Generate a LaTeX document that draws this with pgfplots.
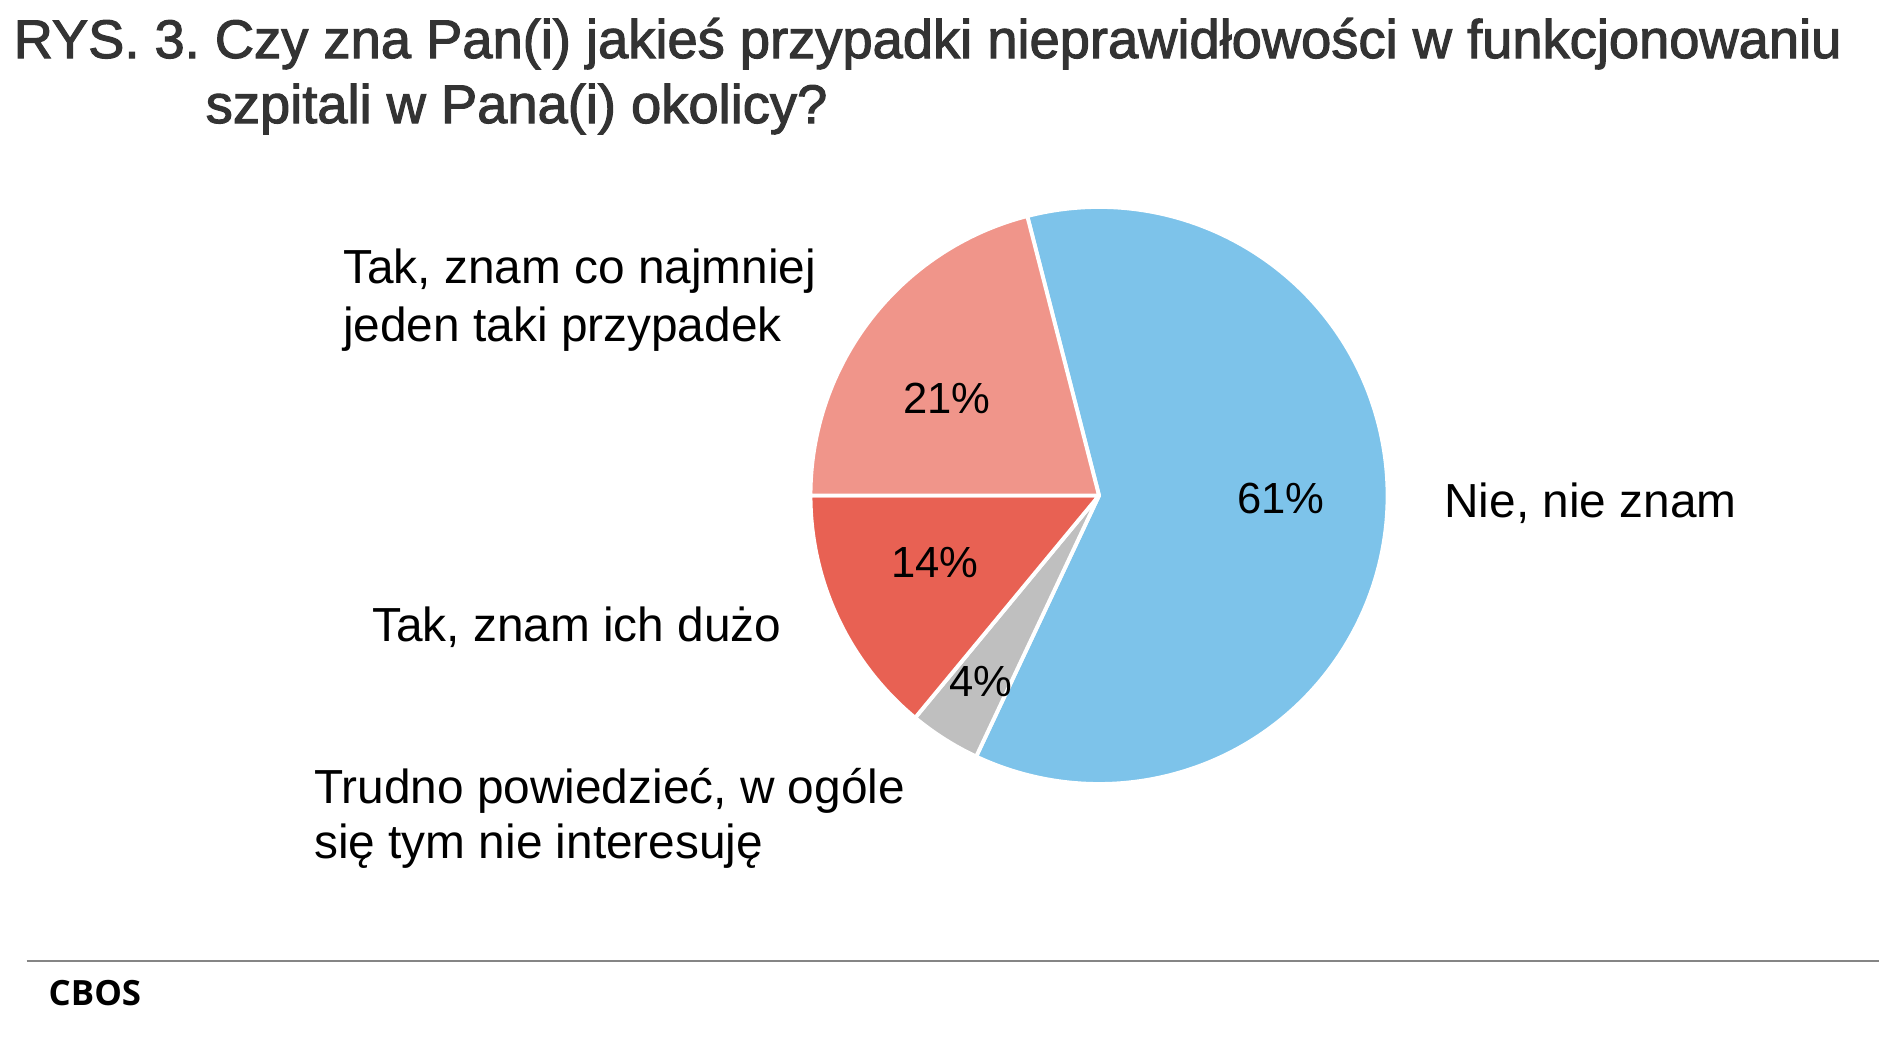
\documentclass[border=0pt]{standalone}
\usepackage{pgfplots}
\pgfplotsset{compat=1.18}
\usepackage{fontspec}
\setmainfont{Liberation Sans}
\newfontfamily\titlefont{Liberation Sans}[FakeBold=2]
\newfontfamily\cbosfont{Open Sans}[UprightFont=* Bold]
\definecolor{cblue}{HTML}{7DC3EA}
\definecolor{cpink}{HTML}{F0958A}
\definecolor{cred}{HTML}{E86153}
\definecolor{cgray}{HTML}{BFBFBF}
\definecolor{ctitle}{HTML}{333333}
\frenchspacing
\begin{document}
\begin{tikzpicture}
\path[use as bounding box] (0,0) rectangle (18.91cm,10.38cm);
\begin{axis}[
  at={(0,0)}, anchor=south west,
  width=18.91cm, height=10.38cm, scale only axis,
  xmin=0, xmax=1891, ymin=0, ymax=1038,
  hide axis, clip=false]
% values (percent): Nie 61, Trudno 4, Tak duzo 14, Tak jeden 21
\pgfmathsetmacro{\aA}{104.4}
\pgfmathsetmacro{\aB}{\aA-61*3.6}
\pgfmathsetmacro{\aC}{\aB-4*3.6}
\pgfmathsetmacro{\aD}{\aC-14*3.6}
\pgfmathsetmacro{\aE}{\aD-21*3.6}
\def\R{2.885cm}
\filldraw[fill=cblue, draw=white, line width=1.1pt, line join=round]
  (axis cs:1099,542.5) -- ++(\aA:\R) arc[start angle=\aA, end angle=\aB, radius=\R] -- cycle;
\filldraw[fill=cgray, draw=white, line width=1.1pt, line join=round]
  (axis cs:1099,542.5) -- ++(\aB:\R) arc[start angle=\aB, end angle=\aC, radius=\R] -- cycle;
\filldraw[fill=cred, draw=white, line width=1.1pt, line join=round]
  (axis cs:1099,542.5) -- ++(\aC:\R) arc[start angle=\aC, end angle=\aD, radius=\R] -- cycle;
\filldraw[fill=cpink, draw=white, line width=1.1pt, line join=round]
  (axis cs:1099,542.5) -- ++(\aD:\R) arc[start angle=\aD, end angle=\aE, radius=\R] -- cycle;
% percent labels
\begin{scope}[every node/.style={inner sep=0pt, font=\fontsize{12.4pt}{14pt}\selectfont}]
\node at (axis cs:1281,540) {61\%};
\node at (axis cs:946.7,640) {21\%};
\node at (axis cs:934.7,475) {14\%};
\node at (axis cs:980.5,357) {4\%};
\end{scope}
% category labels
\begin{scope}[every node/.style={inner sep=0pt, anchor=base west, font=\fontsize{13.6pt}{16pt}\selectfont}]
\node at (axis cs:342.5,755) {Tak, znam co najmniej};
\node at (axis cs:342.5,697) {jeden taki przypadek};
\node at (axis cs:371.5,397) {Tak, znam ich dużo};
\node at (axis cs:313.5,235) {Trudno powiedzieć, w ogóle};
\node at (axis cs:313.5,180) {się tym nie interesuję};
\node at (axis cs:1443.6,521) {Nie, nie znam};
\end{scope}
% title
\begin{scope}[every node/.style={inner sep=0pt, anchor=base west, text=ctitle, font=\titlefont\fontsize{15.45pt}{17pt}\selectfont}]
\node at (axis cs:13,980) {RYS. 3. Czy zna Pan(i) jakieś przypadki nieprawidłowości w funkcjonowaniu};
\node at (axis cs:205,915) {szpitali w Pana(i) okolicy?};
\end{scope}
% footer
\draw[color=black!48, line width=0.8pt] (axis cs:26.5,77) -- (axis cs:1879,77);
\node[inner sep=0pt, anchor=base west, font=\cbosfont\fontsize{9.9pt}{11pt}\selectfont] at (axis cs:48,33) {CBOS};
\end{axis}
\end{tikzpicture}
\end{document}
